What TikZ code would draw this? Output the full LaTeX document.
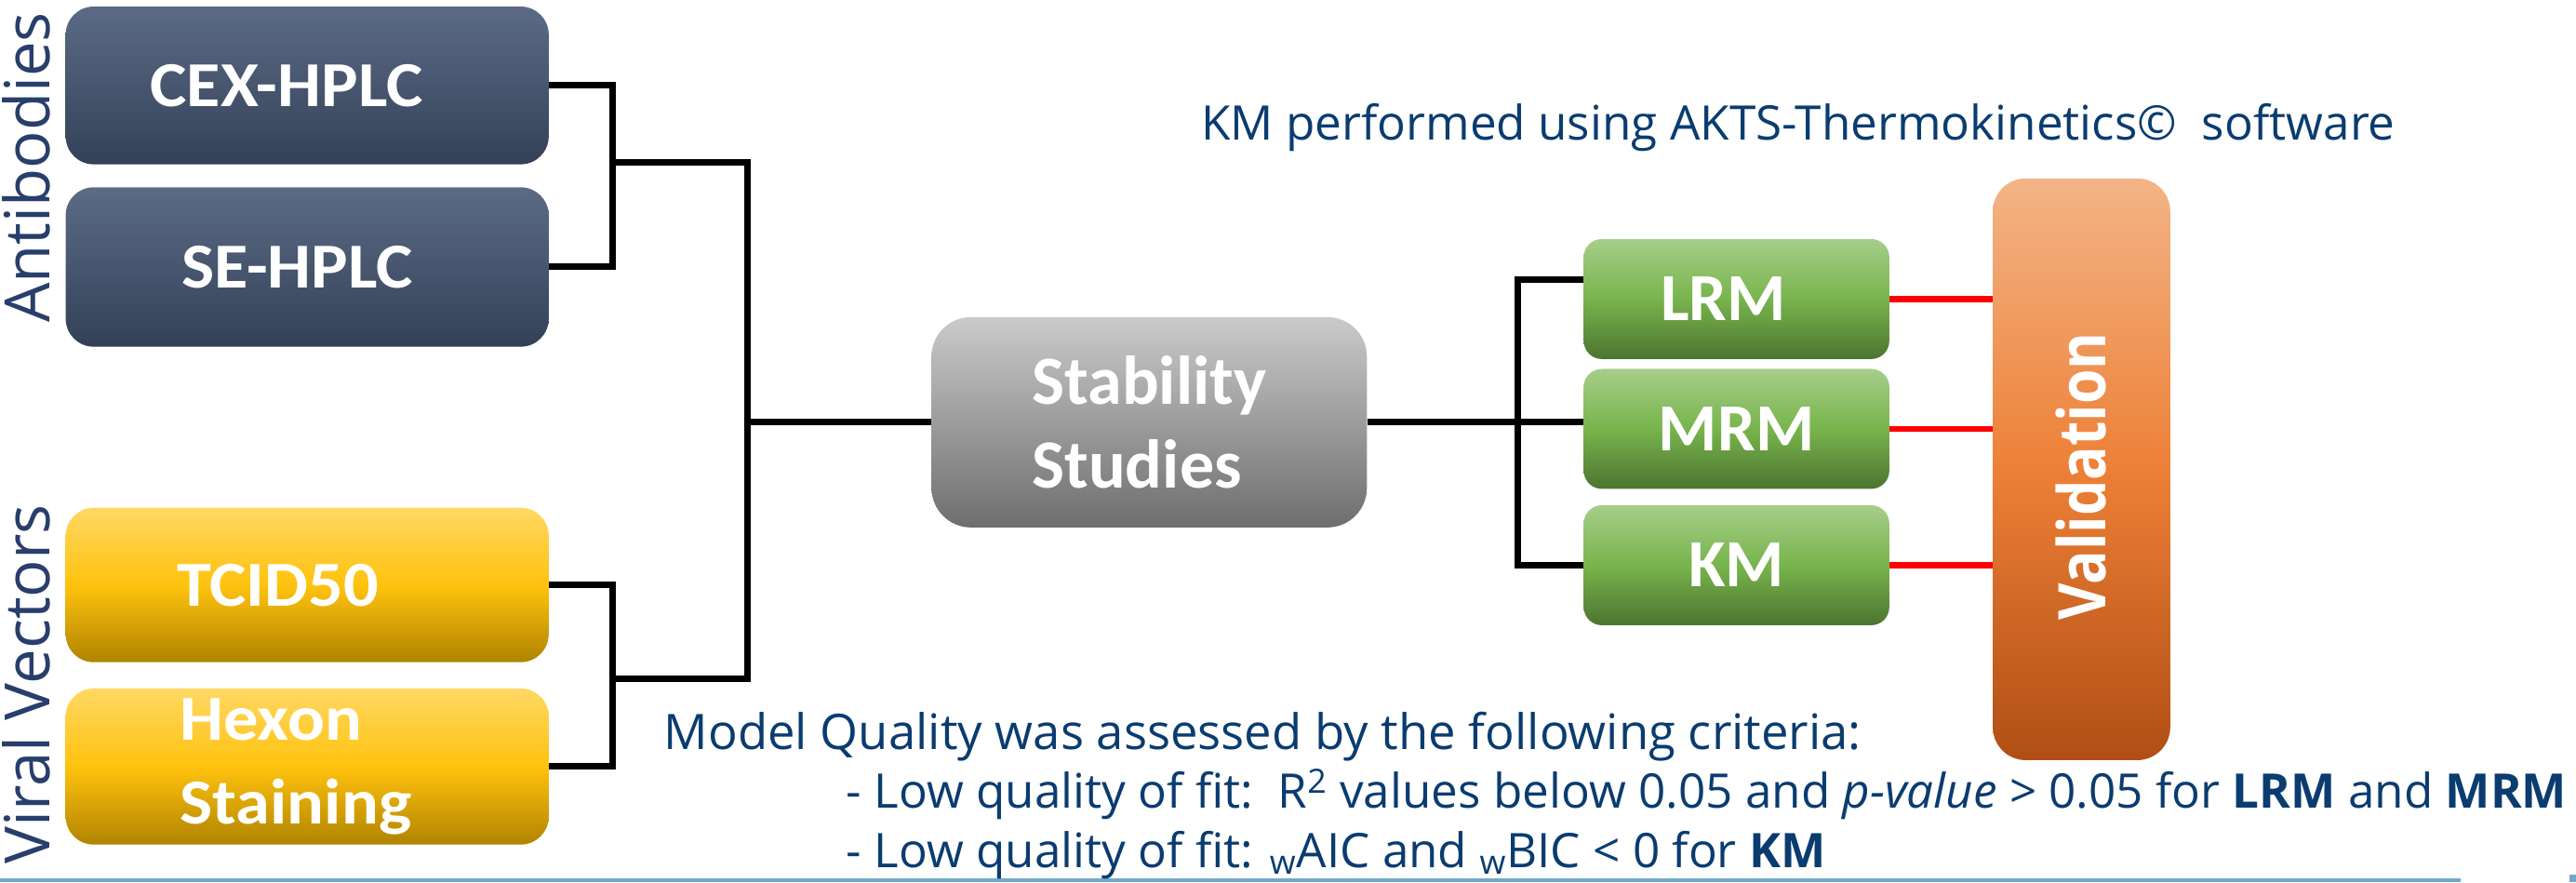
\documentclass[tikz,border=0pt]{standalone}
\usepackage{fontspec}
\setmainfont{Open Sans}
\newfontfamily\calfont{Carlito}
\newfontfamily\calwide{Carlito}[FakeStretch=1.08]
\newfontfamily\valfont{Open Sans}[FakeStretch=0.86]
\usetikzlibrary{calc}
\definecolor{navy}{RGB}{10,60,112}
\definecolor{sidecol}{RGB}{40,62,108}
\definecolor{slateT}{RGB}{92,107,133}
\definecolor{slateB}{RGB}{51,64,88}
\definecolor{goldT}{RGB}{255,216,100}
\definecolor{goldM}{RGB}{255,194,14}
\definecolor{goldB}{RGB}{176,132,0}
\definecolor{grayT}{RGB}{202,202,202}
\definecolor{grayB}{RGB}{110,110,110}
\definecolor{greenT}{RGB}{166,206,138}
\definecolor{greenM}{RGB}{120,180,76}
\definecolor{greenB}{RGB}{76,116,48}
\definecolor{orT}{RGB}{243,180,134}
\definecolor{orM}{RGB}{237,128,55}
\definecolor{orB}{RGB}{176,78,20}
\definecolor{bluel}{RGB}{112,168,200}
\definecolor{redl}{RGB}{255,0,0}
\begin{document}
\begin{tikzpicture}[x=1pt,y=1pt,
  box/.style={rectangle, inner sep=0pt, text=white, draw=none},
  leftbox/.style={box, rounded corners=17pt, minimum width=294pt,
    font=\fontsize{39}{51}\selectfont\calwide\bfseries},
  slate/.style={top color=slateT, bottom color=slateB},
  gold/.style={top color=goldT, bottom color=goldB, middle color=goldM},
  greybox/.style={top color=grayT, bottom color=grayB},
  greenbox/.style={box, rounded corners=11pt, minimum width=186pt, minimum height=73pt,
    top color=greenT, bottom color=greenB, middle color=greenM,
    font=\fontsize{41}{41}\selectfont\calfont\bfseries},
  conn/.style={draw=black, line width=4pt},
  redconn/.style={draw=redl, line width=3.8pt},
  txt/.style={inner sep=0pt, text=navy, font=\fontsize{29}{34}\selectfont},
  side/.style={rotate=90, anchor=south, inner sep=0pt, text=sidecol,
    font=\fontsize{38}{38}\selectfont}
]
\useasboundingbox (0,0) rectangle (1568,-537);

% bottom rule
\fill[bluel] (0,-534.8) rectangle (1498,-537);
\fill[bluel] (1564,-532.5) rectangle (1568,-537);

% side labels
\node[side] (ab) at (31,-102) {Antibodies};
\node[side] (vv) at (31,-416.5) {Viral Vectors};

% left boxes
\node[leftbox, slate, minimum height=96pt] (cex) at (187,-52) {CEX-HPLC\hspace*{25pt}};
\node[leftbox, slate, minimum height=97pt] (se) at (187,-162.5) {SE-HPLC\hspace*{12pt}};
\node[leftbox, gold, minimum height=94pt] (tcid) at (187,-356) {TCID50\hspace*{36pt}};
\node[leftbox, gold, minimum height=95pt, align=left] (hexon) at (187,-466.5) {Hexon\\Staining\hspace*{14pt}};

% stability
\node[box, greybox, rounded corners=24pt, minimum width=265pt, minimum height=128pt,
  align=left, font=\fontsize{42}{51}\selectfont\calfont\bfseries] (stab) at (699.5,-257) {Stability\\Studies};

% models
\node[greenbox] (lrm) at (1057,-182) {LRM\hspace*{16pt}};
\node[greenbox] (mrm) at (1057,-261) {MRM};
\node[greenbox] (km) at (1057,-344) {KM};

% validation
\node[box, rounded corners=20pt, minimum width=108pt, minimum height=354pt,
  top color=orT, bottom color=orB, middle color=orM] (val) at (1267,-285.6) {};
\node[rotate=90, inner sep=0pt, text=white, font=\fontsize{40}{40}\selectfont\valfont\bfseries]
  (valtext) at ($(val.center)+(0,-4.4)$) {Validation};

% left connectors
\coordinate (j1) at (373,-99);
\coordinate (j2) at (373,-413);
\coordinate (j3) at (455,-99);
\coordinate (j4) at (455,-413);
\draw[conn] (cex.east) -| (j1) |- (se.east);
\draw[conn] (tcid.east) -| (j2) |- (hexon.east);
\draw[conn] (j1) -- (j3) -- (j4) -- (j2);
\draw[conn] (j3 |- stab.west) -- (stab.west);

% right connectors
\coordinate (r1) at (924,-170);
\draw[conn] (stab.east) -- (stab.east -| mrm.west);
\draw[conn] (lrm.west |- r1) -- (r1) -- (r1 |- km.west) -- (km.west);
\draw[redconn] (lrm.east) -- (lrm.east -| val.west);
\draw[redconn] (mrm.east) -- (mrm.east -| val.west);
\draw[redconn] (km.east) -- (km.east -| val.west);

% texts
\node[txt, anchor=base west] (kmnote) at (731,-85.5) {KM performed using AKTS-Thermokinetics©\ \ software};
\node[txt, anchor=base west, font=\fontsize{29.8}{34}\selectfont] (mq) at (404,-456) {Model Quality was assessed by the following criteria:};
\node[txt, anchor=base west] (c1) at (515,-492) {- Low quality of fit:\ \ R\textsuperscript{2} values below 0.05 and \textit{p-value} > 0.05 for \textbf{LRM} and \textbf{MRM}};
\node[txt, anchor=base west] (c2) at (515,-528) {- Low quality of fit: \textsubscript{w}AIC and \textsubscript{w}BIC < 0 for \textbf{KM}};
\end{tikzpicture}
\end{document}
